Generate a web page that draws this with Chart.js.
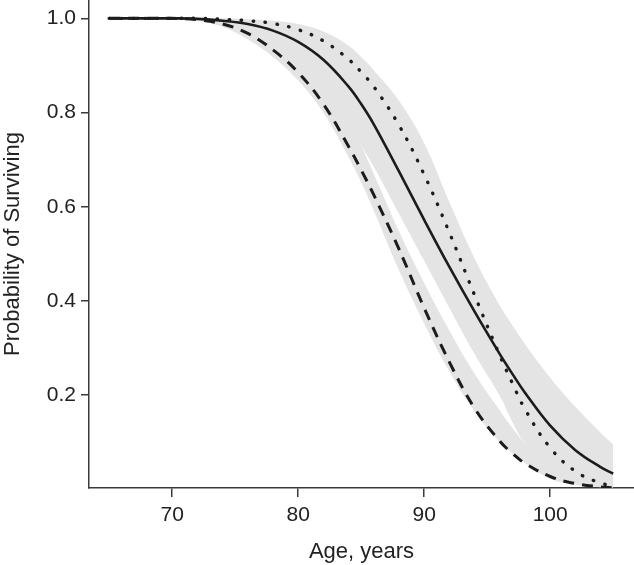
<!DOCTYPE html>
<html lang="en">
<head>
<meta charset="UTF-8">
<title>Probability of Surviving by Age</title>
<script src="https://cdn.jsdelivr.net/npm/chart.js"></script>
<style>
  body { margin: 0; background: #fff; }
  canvas { display: block; }
</style>
</head>
<body>
<canvas id="survivalChart" width="634" height="565"></canvas>
<script>
  // ages (years) shared by every series
  const ages = [65, 68, 70, 72, 74, 76, 78, 80, 82, 84, 85, 86, 88, 90, 92, 94, 96, 97, 98, 100, 102, 104, 105];

  // curves
  const solidCurve  = [1, 1, 1, 0.999, 0.995, 0.988, 0.974, 0.95, 0.912, 0.855, 0.818, 0.775, 0.675, 0.572, 0.472, 0.377, 0.287, 0.245, 0.205, 0.135, 0.083, 0.047, 0.033];
  const dashedCurve = [1, 1, 1, 0.997, 0.988, 0.968, 0.933, 0.885, 0.818, 0.728, 0.678, 0.625, 0.51, 0.385, 0.27, 0.172, 0.102, 0.076, 0.055, 0.027, 0.012, 0.005, 0.003];
  const dottedCurve = [1, 1, 1, 1, 0.998, 0.995, 0.989, 0.976, 0.952, 0.913, 0.886, 0.855, 0.773, 0.668, 0.545, 0.412, 0.284, 0.225, 0.17, 0.088, 0.038, 0.013, 0.008];

  // grey bands
  const solidBandUpper  = [1, 1, 1, 1, 1, 0.998, 0.995, 0.988, 0.972, 0.942, 0.918, 0.89, 0.825, 0.735, 0.61, 0.49, 0.39, 0.348, 0.308, 0.237, 0.175, 0.12, 0.095];
  const solidBandLower  = [1, 1, 1, 1, 0.99, 0.975, 0.95, 0.915, 0.865, 0.78, 0.73, 0.685, 0.585, 0.485, 0.385, 0.287, 0.198, 0.143, 0.098, 0.048, 0.02, 0.008, 0.005];
  const dashedBandUpper = [1, 1, 1, 1, 0.997, 0.985, 0.962, 0.928, 0.875, 0.785, 0.73, 0.67, 0.548, 0.438, 0.337, 0.245, 0.167, 0.13, 0.098, 0.055, 0.028, 0.014, 0.01];
  const dashedBandLower = [1, 1, 1, 0.995, 0.982, 0.955, 0.918, 0.868, 0.8, 0.705, 0.652, 0.592, 0.465, 0.352, 0.25, 0.165, 0.1, 0.076, 0.055, 0.022, 0.009, 0.004, 0.003];

  const xTicks = [70, 80, 90, 100];
  const yTicks = [0.2, 0.4, 0.6, 0.8, 1.0];

  const ink = '#1c1c1c';
  const axisColor = '#3a3a3a';
  const band = '#e4e4e4';
  const fontFamily = '"Liberation Sans", Arial, Helvetica, sans-serif';

  const pts = arr => arr.map((v, i) => ({ x: ages[i], y: v }));

  function lineSet(arr, dash, width, cap) {
    return {
      data: pts(arr),
      borderColor: ink,
      borderWidth: width,
      borderDash: dash,
      borderCapStyle: cap || 'butt',
      fill: false,
      pointRadius: 0,
      tension: 0.4
    };
  }

  function bandSet(arr, fillTo) {
    return {
      data: pts(arr),
      borderColor: 'transparent',
      borderWidth: 0,
      backgroundColor: band,
      fill: fillTo,
      pointRadius: 0,
      tension: 0.4
    };
  }

  const chart = new Chart(document.getElementById('survivalChart'), {
    type: 'line',
    data: {
      datasets: [
        lineSet(solidCurve, [], 2.6),
        lineSet(dashedCurve, [11, 8], 3),
        lineSet(dottedCurve, [0.5, 11.5], 3.4, 'round'),
        bandSet(solidBandUpper, '+1'),
        bandSet(solidBandLower, false),
        bandSet(dashedBandUpper, '+1'),
        bandSet(dashedBandLower, false)
      ]
    },
    options: {
      responsive: false,
      animation: false,
      devicePixelRatio: 1,
      layout: { padding: 0 },
      plugins: {
        legend: { display: false },
        tooltip: { enabled: false },
        filler: { drawTime: 'beforeDatasetsDraw' }
      },
      scales: {
        x: {
          type: 'linear',
          min: 63.4,
          max: 106.65,
          afterFit: s => { s.height = 77; s.paddingLeft = 0; s.paddingRight = 0; },
          afterBuildTicks: s => { s.ticks = xTicks.map(v => ({ value: v })); },
          border: { display: true, color: axisColor, width: 1.5 },
          grid: { drawOnChartArea: false, drawTicks: true, tickLength: 9, color: axisColor, lineWidth: 1.5 },
          ticks: { color: '#222', padding: 6, font: { family: fontFamily, size: 21 }, maxRotation: 0 },
          title: { display: true, text: 'Age, years', color: '#222', padding: { top: 0, bottom: 0 }, font: { family: fontFamily, size: 22 } }
        },
        y: {
          type: 'linear',
          min: 0.0026,
          max: 1.039,
          afterFit: s => { s.width = 89; s.paddingTop = 0; s.paddingBottom = 0; },
          afterBuildTicks: s => { s.ticks = yTicks.map(v => ({ value: v })); },
          border: { display: true, color: axisColor, width: 1.5 },
          grid: { drawOnChartArea: false, drawTicks: true, tickLength: 8, color: axisColor, lineWidth: 1.5 },
          ticks: { color: '#222', padding: 5, font: { family: fontFamily, size: 21 }, callback: v => v.toFixed(1) },
          title: { display: true, text: 'Probability of Surviving', color: '#222', padding: { top: 0, bottom: 0 }, font: { family: fontFamily, size: 22 } }
        }
      }
    }
  });
</script>
</body>
</html>
